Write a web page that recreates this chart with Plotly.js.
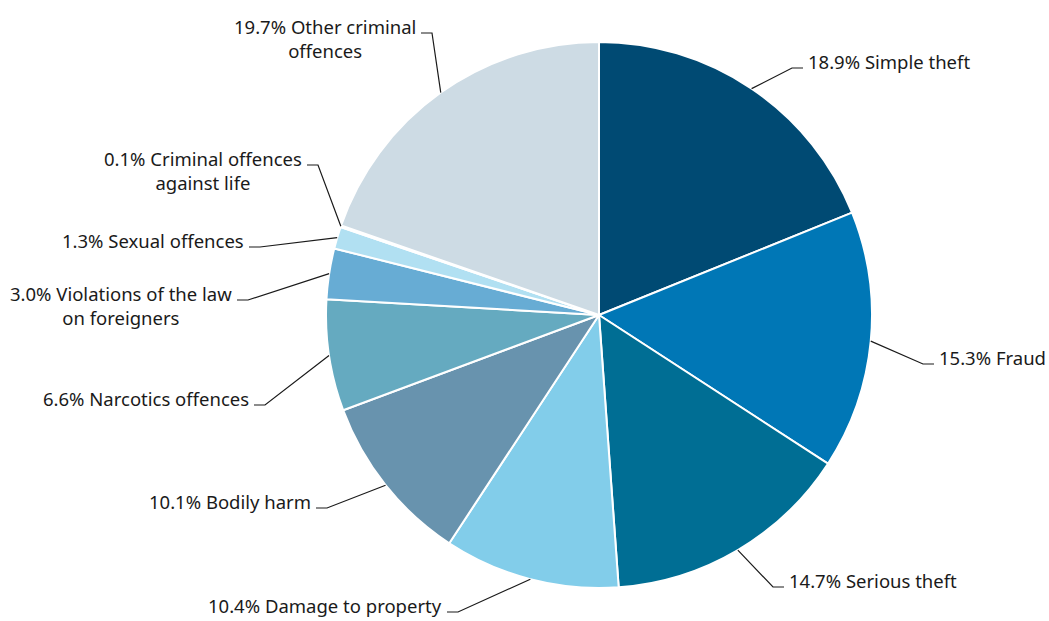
<!DOCTYPE html>
<html>
<head>
<meta charset="utf-8">
<script src="https://cdn.plot.ly/plotly-3.0.1.min.js"></script>
<style>html,body{margin:0;padding:0;background:#fff;}#chart{width:1049px;height:621px;}</style>
</head>
<body>
<div id="chart"></div>
<script>
// ---- data ----
const categories = ['Simple theft', 'Fraud', 'Serious theft', 'Damage to property', 'Bodily harm',
  'Narcotics offences', 'Violations of the law on foreigners', 'Sexual offences',
  'Criminal offences against life', 'Other criminal offences'];
const shares = [18.9, 15.3, 14.7, 10.4, 10.1, 6.6, 3.0, 1.3, 0.1, 19.7];
const labelLines = ['Simple theft', 'Fraud', 'Serious theft', 'Damage to property', 'Bodily harm',
  'Narcotics offences', 'Violations of the law<br>on foreigners', 'Sexual offences',
  'Criminal offences<br>against life', 'Other criminal<br>offences'];
const colors = ['#004a73', '#0077b6', '#006e94', '#82cdea', '#6893ae',
  '#65aac0', '#67acd4', '#b1e0f2', '#9fc9dc', '#cddbe4'];

// ---- layout constants (pixels) ----
const W = 1049, H = 621;
const CX = 599, CY = 315, R = 273;
// elbow points of leader lines and which side the label sits
const elbows = [[792, 68, 1], [923, 364, 1], [773, 587, 1], [458, 612, -1], [327, 508, -1],
  [265, 405, -1], [248, 300, -1], [260, 247, -1], [318, 165, -1], [432, 33, -1]];
const TICK = 11, GAP = 4, FS = 18.5;

const px = x => x / W, py = y => 1 - y / H;

const total = shares.reduce((a, b) => a + b, 0);
let cum = 0;
const shapes = [], annotations = [];
shares.forEach((v, i) => {
  const mid = (cum + v / 2) / total * 2 * Math.PI;
  cum += v;
  const sx = CX + R * Math.sin(mid), sy = CY - R * Math.cos(mid);
  const [ex, ey, side] = elbows[i];
  const tx = ex + side * TICK;
  shapes.push({
    type: 'path', xref: 'paper', yref: 'paper',
    path: `M ${px(sx)} ${py(sy)} L ${px(ex)} ${py(ey)} L ${px(tx)} ${py(ey)}`,
    line: {color: '#1a1a1a', width: 1.2}
  });
  annotations.push({
    xref: 'paper', yref: 'paper', x: px(tx + side * GAP), y: py(ey - 20),
    xanchor: side > 0 ? 'left' : 'right', yanchor: 'top', align: 'center',
    text: v.toFixed(1) + '% ' + labelLines[i], showarrow: false,
    font: {family: 'Noto Sans, sans-serif', size: FS, color: '#1a1a1a'}, borderpad: 0
  });
});

const trace = {
  type: 'pie', labels: categories, values: shares, sort: false,
  direction: 'clockwise', rotation: 0, textinfo: 'none', hoverinfo: 'label+percent',
  marker: {colors: colors, line: {color: '#ffffff', width: 2}},
  domain: {x: [(CX - R) / W, (CX + R) / W], y: [1 - (CY + R) / H, 1 - (CY - R) / H]},
  showlegend: false
};

Plotly.newPlot('chart', [trace], {
  width: W, height: H, margin: {l: 0, r: 0, t: 0, b: 0},
  paper_bgcolor: '#ffffff', showlegend: false,
  shapes: shapes, annotations: annotations
}, {displayModeBar: false, staticPlot: true});
</script>
</body>
</html>
